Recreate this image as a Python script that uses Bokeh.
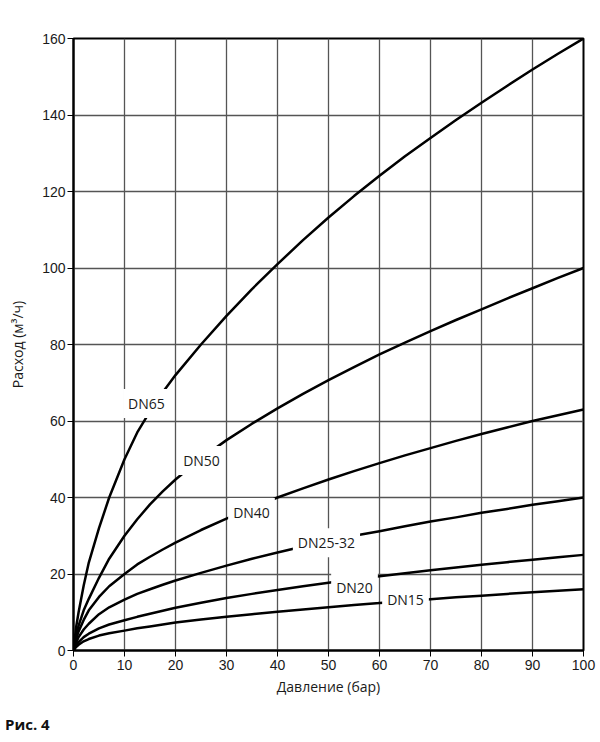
from bokeh.plotting import figure
from bokeh.models import Label, Range1d, FixedTicker, Div
from bokeh.layouts import column
from bokeh.embed import file_html
from bokeh.resources import INLINE

pressure = [0, 0.5, 1, 2, 3, 5, 7, 10, 12.5, 15, 17.5, 20, 25, 30, 35, 40, 45, 50,
            55, 60, 65, 70, 75, 80, 85, 90, 95, 100]
dn65 = [0, 6, 10, 17, 23, 32, 40, 50, 57, 62.5, 67.5, 72, 80, 87.5, 94.5, 101,
        107.3, 113.2, 118.8, 124.1, 129.2, 134, 138.7, 143.2, 147.6, 151.9, 156, 160]
dn50 = [0, 4, 6.5, 10.5, 13.5, 19, 24, 30, 34.3, 38.2, 41.6, 44.7, 50.2, 55, 59.3, 63.3,
        67.1, 70.7, 74.1, 77.4, 80.5, 83.5, 86.4, 89.2, 92, 94.7, 97.4, 100]
dn40 = [0, 3, 5, 8, 10.5, 14, 16.8, 20, 22.5, 24.5, 26.4, 28.2, 31.5, 34.5, 37.3, 40,
        42.4, 44.7, 46.9, 49, 51, 52.9, 54.8, 56.6, 58.3, 60, 61.5, 63]
dn25_32 = [0, 2, 3.5, 5.5, 7, 9.5, 11.3, 13.3, 14.8, 16, 17.2, 18.3, 20.3, 22.2, 24, 25.6,
           27.2, 28.6, 30, 31.2, 32.5, 33.7, 34.8, 36, 37, 38.1, 39, 40]
dn20 = [0, 1.3, 2.2, 3.5, 4.4, 5.8, 6.8, 7.9, 8.8, 9.6, 10.4, 11.2, 12.5, 13.7, 14.8, 15.8,
        16.8, 17.7, 18.6, 19.4, 20.2, 21, 21.7, 22.4, 23.1, 23.7, 24.4, 25]
dn15 = [0, 0.9, 1.5, 2.4, 3, 3.9, 4.5, 5.2, 5.8, 6.3, 6.8, 7.3, 8.1, 8.8, 9.5, 10.1,
        10.7, 11.3, 11.9, 12.4, 12.9, 13.4, 13.9, 14.3, 14.8, 15.2, 15.6, 16]

series = [dn65, dn50, dn40, dn25_32, dn20, dn15]
label_names = ["DN65", "DN50", "DN40", "DN25-32", "DN20", "DN15"]
label_x = [14.3, 25.1, 34.9, 49.6, 55.1, 65.1]
label_y = [64.6, 49.7, 36.1, 28.2, 16.5, 13.3]

x_ticks = [0, 10, 20, 30, 40, 50, 60, 70, 80, 90, 100]
y_ticks = [0, 20, 40, 60, 80, 100, 120, 140, 160]

p = figure(width=600, height=706, output_backend="svg", toolbar_location=None,
           x_range=Range1d(0, 100), y_range=Range1d(0, 160),
           min_border_left=73, min_border_right=17, min_border_top=38, min_border_bottom=56)
p.background_fill_color = "white"
p.border_fill_color = "white"
p.outline_line_color = "black"
p.outline_line_width = 2

for ax in (p.xaxis[0], p.yaxis[0]):
    ax.axis_line_width = 2
    ax.axis_line_color = "black"
    ax.major_tick_out = 6
    ax.major_tick_in = 0
    ax.major_tick_line_color = "black"
    ax.minor_tick_line_color = None
    ax.major_label_text_font = "Liberation Sans"
    ax.major_label_text_font_size = "14px"
    ax.major_label_text_color = "#1a1a1a"
    ax.axis_label_text_font = "Open Sans"
    ax.axis_label_text_font_size = "14px"
    ax.axis_label_text_font_style = "normal"
    ax.axis_label_text_color = "#1a1a1a"

p.xaxis[0].ticker = FixedTicker(ticks=x_ticks)
p.yaxis[0].ticker = FixedTicker(ticks=y_ticks)
p.xaxis[0].major_label_standoff = 3
p.yaxis[0].major_label_standoff = 2
p.xaxis[0].axis_label = "Давление (бар)"
p.yaxis[0].axis_label = "Расход (м³/ч)"
p.xaxis[0].axis_label_standoff = 4
p.yaxis[0].axis_label_standoff = 12

p.grid.grid_line_color = "#555555"
p.grid.grid_line_width = 1.3
p.xgrid.ticker = FixedTicker(ticks=x_ticks)
p.ygrid.ticker = FixedTicker(ticks=y_ticks)

for s in series:
    p.line(pressure, s, line_color="black", line_width=2.5, line_join="round")

for name, lx, ly in zip(label_names, label_x, label_y):
    p.add_layout(Label(x=lx, y=ly, text=name, text_align="center", text_baseline="middle",
                       text_font="Open Sans", text_font_size="14px", text_color="#1a1a1a",
                       background_fill_color="white", padding=5))

caption = Div(text="Рис. 4", width=600, height=36, margin=0,
              styles={"font-family": "Open Sans", "font-size": "15px", "font-weight": "bold",
                      "color": "#111111", "padding-top": "8px", "padding-left": "5px",
                      "line-height": "20px"})

layout = column(p, caption, spacing=0)

open("out.html", "w").write(file_html(layout, INLINE))
